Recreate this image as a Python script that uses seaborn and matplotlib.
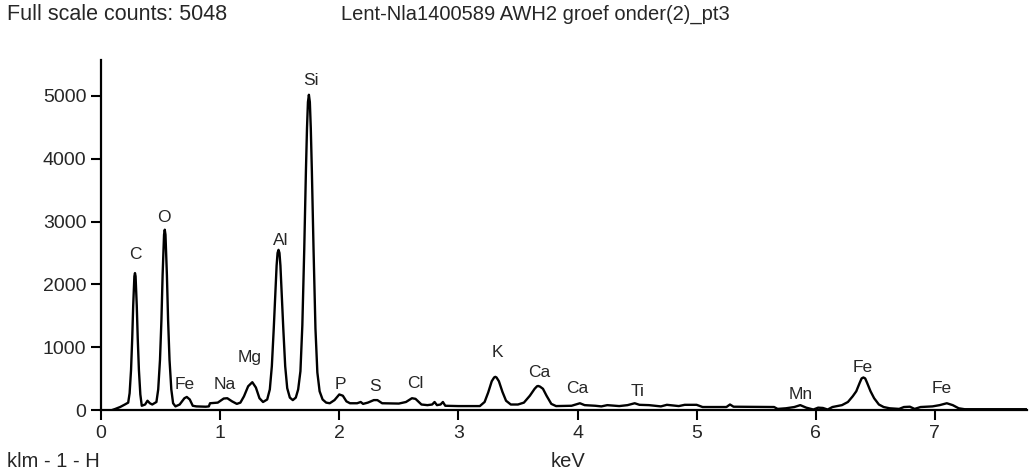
import matplotlib
matplotlib.use("Agg")
import matplotlib.pyplot as plt
import seaborn as sns
import pandas as pd

# spectrum (keV, counts)
kev = [0.09, 0.12, 0.16, 0.20, 0.228, 0.240, 0.252, 0.262, 0.270, 0.277, 0.280, 0.285, 0.290, 0.293, 0.300, 0.308, 0.318, 0.330, 0.342,
       0.37, 0.39, 0.41, 0.43,
       0.465, 0.48, 0.495, 0.507, 0.517, 0.526, 0.529, 0.535, 0.541, 0.544, 0.553, 0.563, 0.575, 0.59, 0.605, 0.625,
       0.66, 0.70, 0.72, 0.745, 0.77, 0.80, 0.88, 0.905, 0.915, 0.98, 1.03, 1.06, 1.10, 1.14, 1.17,
       1.20, 1.235, 1.27, 1.30, 1.33, 1.36,
       1.395, 1.417, 1.434, 1.45, 1.465, 1.474, 1.482, 1.49, 1.498, 1.506, 1.515, 1.53, 1.546, 1.563, 1.585, 1.61,
       1.635, 1.655, 1.674, 1.69, 1.706, 1.72, 1.729, 1.737, 1.745, 1.753, 1.761, 1.77, 1.784, 1.80, 1.816, 1.835, 1.86, 1.89, 1.92,
       1.96, 2.0, 2.03, 2.06, 2.09, 2.15, 2.18, 2.20, 2.24, 2.29, 2.32, 2.36, 2.5, 2.56, 2.61, 2.64, 2.69,
       2.74, 2.78, 2.80, 2.82, 2.85, 2.87, 2.89, 3.0, 3.18,
       3.22, 3.25, 3.28, 3.30, 3.31, 3.32, 3.34, 3.37, 3.40, 3.44, 3.5,
       3.55, 3.60, 3.64, 3.66, 3.67, 3.685, 3.71, 3.74, 3.78, 3.82,
       3.95, 4.02, 4.06, 4.15, 4.2, 4.25, 4.35, 4.42, 4.48, 4.52, 4.6, 4.7, 4.75, 4.85, 4.9, 5.0, 5.05,
       5.25, 5.28, 5.31, 5.65, 5.68, 5.75, 5.82, 5.87, 5.92, 5.98, 6.02, 6.06, 6.1, 6.14,
       6.22, 6.27, 6.31, 6.34, 6.37, 6.385, 6.40, 6.415, 6.43, 6.46, 6.49, 6.53, 6.57,
       6.62, 6.7, 6.74, 6.79, 6.83, 6.88, 6.98, 7.04, 7.10, 7.15, 7.20, 7.25, 7.77]
counts = [0, 20, 50, 90, 120, 270, 640, 1150, 1660, 2000, 2130, 2180, 2130, 2000, 1660, 1150, 640, 250, 70,
          90, 150, 110, 90,
          130, 330, 800, 1430, 2150, 2640, 2790, 2870, 2790, 2640, 2150, 1430, 800, 330, 110, 60,
          90, 190, 210, 170, 70, 60, 55, 60, 110, 120, 185, 190, 140, 100, 120,
          220, 380, 445, 360, 190, 130,
          170, 330, 700, 1300, 1930, 2300, 2500, 2550, 2500, 2300, 1930, 1300, 700, 350, 200, 160,
          200, 330, 620, 1350, 2560, 3800, 4480, 4900, 5016, 4900, 4480, 3800, 2560, 1300, 600, 300, 170, 120, 110,
          160, 250, 230, 140, 110, 110, 130, 100, 120, 160, 160, 110, 105, 130, 190, 180, 90,
          80, 90, 130, 80, 90, 130, 70, 65, 65,
          130, 280, 460, 520, 530, 520, 460, 290, 150, 90, 90,
          120, 230, 340, 380, 385, 375, 340, 230, 100, 65,
          70, 110, 80, 70, 60, 80, 65, 80, 110, 85, 80, 60, 85, 65, 85, 85, 50,
          50, 90, 55, 50, 20, 30, 50, 80, 40, 10, 40, 35, 10, 50,
          80, 130, 220, 300, 440, 505, 520, 505, 440, 300, 190, 90, 50,
          30, 20, 50, 55, 20, 50, 60, 80, 110, 80, 30, 15, 15]

# peak labels
peak_names = ["C", "O", "Fe", "Na", "Mg", "Al", "Si", "P", "S", "Cl", "K", "Ca", "Ca", "Ti", "Mn", "Fe", "Fe"]
peak_x = [0.29, 0.53, 0.70, 1.04, 1.25, 1.51, 1.76, 2.01, 2.30, 2.64, 3.33, 3.68, 4.00, 4.50, 5.87, 6.39, 7.06]
peak_y = [2480, 3060, 415, 415, 845, 2700, 5250, 415, 370, 430, 910, 605, 350, 300, 255, 685, 350]

df = pd.DataFrame({"keV": kev, "counts": counts})

sns.set_style("ticks")
plt.rcParams["font.family"] = ["Liberation Sans", "DejaVu Sans"]

fig = plt.figure(figsize=(10.33, 4.72), dpi=100)
ax = fig.add_axes([0.0978, 0.131, 0.896, 0.742])

sns.lineplot(data=df, x="keV", y="counts", ax=ax, color="black", lw=1.7,
             estimator=None, sort=False)

for name, x, y in zip(peak_names, peak_x, peak_y):
    ax.text(x, y, name, ha="center", va="center", fontsize=12.5)

ax.set_xlim(0, 7.77)
ax.set_ylim(0, 5570)
ax.set_xticks(range(0, 8))
ax.set_yticks([0, 1000, 2000, 3000, 4000, 5000])
ax.tick_params(axis="both", direction="out", length=7.5, width=1.5, pad=3,
               labelsize=14, color="black")
for s in ["top", "right"]:
    ax.spines[s].set_visible(False)
for s in ["left", "bottom"]:
    ax.spines[s].set_linewidth(1.6)
    ax.spines[s].set_color("black")
ax.set_xlabel("")
ax.set_ylabel("")

fig.text(0.007, 0.97, "Full scale counts: 5048", fontsize=15.5, va="center", ha="left")
fig.text(0.518, 0.97, "Lent-Nla1400589 AWH2 groef onder(2)_pt3", fontsize=14.5, va="center", ha="center")
fig.text(0.007, 0.023, "klm - 1 - H", fontsize=14.5, va="center", ha="left")
fig.text(0.55, 0.023, "keV", fontsize=14.5, va="center", ha="center")

fig.savefig("out.png", dpi=100)
